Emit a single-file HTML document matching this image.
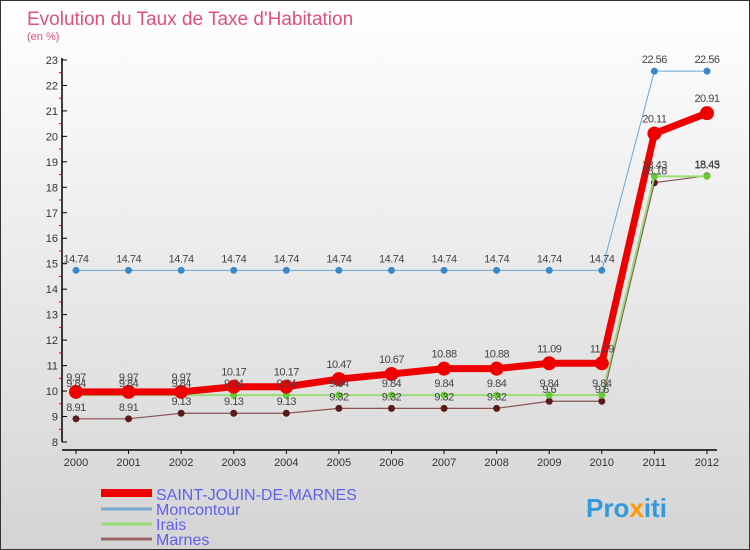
<!DOCTYPE html>
<html><head><meta charset="utf-8"><style>
body{margin:0}
#c{width:750px;height:550px;position:relative;box-sizing:border-box;border:1px solid #333;background:linear-gradient(#ffffff,#d4d4d4);font-family:"Liberation Sans",sans-serif;overflow:hidden}
</style></head><body>
<div id="c">
<svg id="s" width="748" height="548" xmlns="http://www.w3.org/2000/svg" style="position:absolute;left:0;top:0">
<text x="26" y="24" font-size="19" fill="#e0507a">Evolution du Taux de Taxe d'Habitation</text>
<text x="26" y="39" font-size="11" fill="#e0507a">(en %)</text>
<g id="axes"></g><g id="series"></g><g id="labels"></g>
<g>
<line x1="100" y1="492" x2="151" y2="492" stroke="#e00" stroke-width="8"/>
<text x="155" y="499" font-size="16" fill="#6060ee">SAINT-JOUIN-DE-MARNES</text>
<line x1="100" y1="508" x2="151" y2="508" stroke="#7aa8cc" stroke-width="3"/>
<text x="155" y="514" font-size="16" fill="#6060ee">Moncontour</text>
<line x1="100" y1="523" x2="151" y2="523" stroke="#99dd77" stroke-width="3"/>
<text x="155" y="529" font-size="16" fill="#6060ee">Irais</text>
<line x1="100" y1="538" x2="151" y2="538" stroke="#996666" stroke-width="3"/>
<text x="155" y="544" font-size="16" fill="#6060ee">Marnes</text>
</g>
<text x="585" y="516" font-size="26" font-weight="bold" fill="#3399dd">Pro<tspan fill="#ff9900">x</tspan>iti</text>
</svg>
</div>
<script>
const years=[2000,2001,2002,2003,2004,2005,2006,2007,2008,2009,2010,2011,2012];
const saint=[9.97,9.97,9.97,10.17,10.17,10.47,10.67,10.88,10.88,11.09,11.09,20.11,20.91];
const moncontour=[14.74,14.74,14.74,14.74,14.74,14.74,14.74,14.74,14.74,14.74,14.74,22.56,22.56];
const irais=[9.84,9.84,9.84,9.84,9.84,9.84,9.84,9.84,9.84,9.84,9.84,18.43,18.43];
const marnes=[8.91,8.91,9.13,9.13,9.13,9.32,9.32,9.32,9.32,9.6,9.6,18.18,18.45];
const yTicks=[8,9,10,11,12,13,14,15,16,17,18,19,20,21,22,23];
const NS="http://www.w3.org/2000/svg";
const X=i=>75+i*52.58, Y=v=>441-(v-8)*25.47;
function mk(t,a,p){const e=document.createElementNS(NS,t);for(const k in a)e.setAttribute(k,a[k]);p.appendChild(e);return e;}
const ax=document.getElementById('axes'),sg=document.getElementById('series'),lg=document.getElementById('labels');
let l=mk('line',{x1:61,y1:Y(23)-2,x2:61,y2:Y(8),stroke:'#000','stroke-width':1.5},ax);


l=mk('line',{x1:61,y1:449,x2:716,y2:449,stroke:'#000','stroke-width':1.5},ax);


yTicks.forEach(v=>{mk('line',{x1:61,y1:Y(v),x2:66,y2:Y(v),stroke:'#000'},ax);
 if(v<23)mk('line',{x1:58,y1:Y(v+0.5),x2:61,y2:Y(v+0.5),stroke:'#e00'},ax);
 const t=mk('text',{x:57,y:Y(v)+4,'font-size':11,fill:'#333','text-anchor':'end'},ax);t.textContent=v;
 
 });
years.forEach((yr,i)=>{mk('line',{x1:X(i),y1:449,x2:X(i),y2:453,stroke:'#000'},ax);
 const t=mk('text',{x:X(i),y:465,'font-size':11,fill:'#333','text-anchor':'middle'},ax);t.textContent=yr;
 
 });
function fmt(v){return String(v).replace(/^(\d+)\.(\d)$/,'$1.$2');}
function draw(vals,name,col,w,r,dot,labOff){
 const p=mk('polyline',{points:vals.map((v,i)=>X(i)+','+Y(v)).join(' '),fill:'none',stroke:col,'stroke-width':w},sg);
 
 
 vals.forEach((v,i)=>{const c=mk('circle',{cx:X(i),cy:Y(v),r:r,fill:dot},sg);
  
  
  const t=mk('text',{x:X(i),y:Y(v)+labOff,'font-size':11,fill:'#444','text-anchor':'middle','letter-spacing':'-0.5'},lg);t.textContent=fmt(v);
  
  });
}
draw(moncontour,'moncontour','#6aa6d6',1,3.5,'#3a88c8',-8);
draw(marnes,'marnes','#885555',1.2,3.5,'#5a1a1a',-8);
draw(irais,'irais','#99dd77',2,3.5,'#66cc33',-8);
draw(saint,'saint-jouin','#ee0000',7,7,'#ee0000',-11);
</script>
</body></html>
